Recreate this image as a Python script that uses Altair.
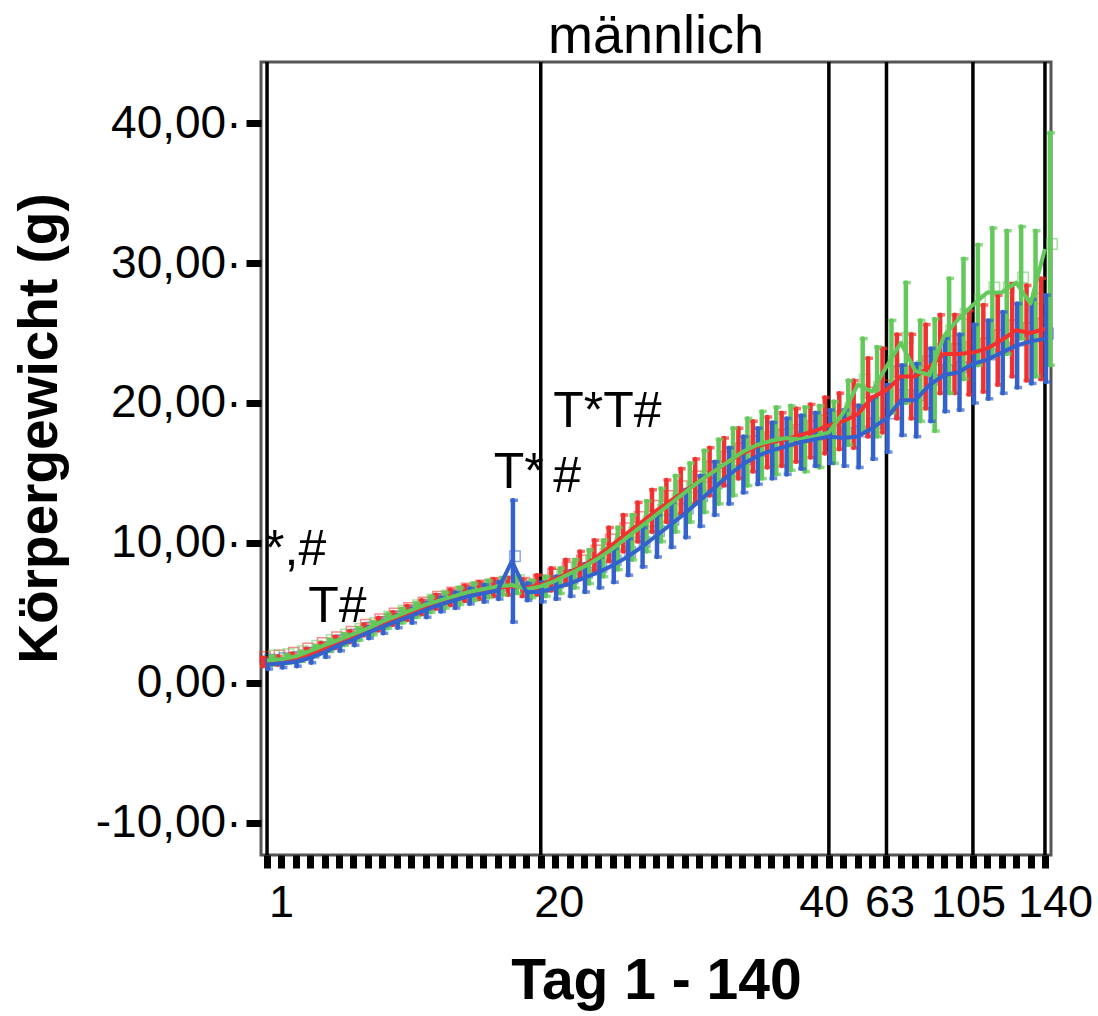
import altair as alt
import pandas as pd

# ---------------- data ----------------
days = [str(d) for d in list(range(1, 41)) + [42, 49, 56, 63, 70, 77, 84, 91, 98, 105, 112, 119, 126, 133, 140]]
labeled_days = ["1", "20", "40", "63", "105", "140"]
label_shift = [14, 18, -5, 3, -5, 10]
ref_days = ["1", "20", "40", "63", "105", "140"]

red_mean = [1.5, 1.6, 1.8, 2.1, 2.5, 2.9, 3.3, 3.8, 4.2, 4.6,
            5.0, 5.4, 5.8, 6.1, 6.4, 6.6, 6.8, 6.9, 6.8, 7.0,
            7.4, 7.9, 8.4, 9.1, 9.9, 10.7, 11.5, 12.3, 13.0, 13.7,
            14.4, 15.1, 15.8, 16.4, 16.9, 17.2, 17.4, 17.7, 18.0, 18.4,
            18.7, 19.2, 20.4, 20.9, 21.9, 21.9, 22.6, 23.5, 23.5, 23.6,
            23.9, 24.5, 25.2, 25.0, 25.3]
green_mean = [1.6, 1.7, 1.9, 2.3, 2.7, 3.1, 3.5, 3.9, 4.4, 4.8,
              5.2, 5.6, 5.9, 6.2, 6.5, 6.7, 6.9, 7.0, 6.7, 6.9,
              7.3, 7.8, 8.3, 8.9, 9.6, 10.4, 11.2, 12.0, 12.8, 13.6,
              14.4, 15.1, 15.8, 16.5, 17.0, 17.3, 17.5, 17.4, 17.6, 17.9,
              19.3, 21.3, 20.8, 22.6, 24.3, 22.3, 22.0, 24.8, 26.0, 27.0,
              27.9, 27.9, 28.6, 27.1, 31.0]
blue_mean = [1.3, 1.4, 1.5, 1.8, 2.2, 2.7, 3.1, 3.6, 4.0, 4.4,
             4.8, 5.2, 5.6, 5.9, 6.2, 6.4, 6.6, 8.7, 6.5, 6.5,
             6.8, 7.1, 7.5, 7.9, 8.4, 9.0, 9.7, 10.5, 11.3, 12.1,
             13.0, 13.9, 14.8, 15.6, 16.2, 16.6, 16.9, 17.2, 17.4, 17.6,
             17.5, 17.6, 18.2, 18.9, 20.2, 20.2, 21.3, 22.0, 22.2, 22.8,
             23.1, 23.6, 24.1, 24.4, 24.6]

red_sd = [0.3, 0.3, 0.3, 0.35, 0.35, 0.4, 0.4, 0.4, 0.45, 0.45,
          0.5, 0.5, 0.5, 0.55, 0.55, 0.6, 0.6, 0.6, 0.6, 0.7,
          0.8, 0.9, 1.0, 1.1, 1.2, 1.3, 1.4, 1.5, 1.5, 1.6,
          1.6, 1.7, 1.7, 1.8, 1.8, 1.8, 1.9, 1.9, 1.9, 2.0,
          2.0, 2.4, 2.8, 3.0, 3.0, 3.0, 3.0, 2.8, 2.8, 3.0,
          3.1, 3.2, 3.3, 3.4, 3.6]
green_sd = [0.3, 0.3, 0.35, 0.35, 0.4, 0.4, 0.45, 0.45, 0.5, 0.5,
            0.5, 0.55, 0.55, 0.6, 0.6, 0.6, 0.6, 0.6, 0.6, 0.7,
            0.9, 1.0, 1.2, 1.3, 1.5, 1.6, 1.8, 1.9, 2.0, 2.1,
            2.2, 2.3, 2.4, 2.4, 2.4, 2.4, 2.3, 2.3, 2.2, 2.2,
            2.3, 3.3, 3.2, 3.3, 4.3, 3.6, 4.0, 4.1, 4.3, 4.3,
            4.6, 4.4, 4.0, 5.2, 8.3]
blue_sd = [0.3, 0.3, 0.3, 0.35, 0.35, 0.4, 0.4, 0.4, 0.45, 0.45,
           0.5, 0.5, 0.5, 0.55, 0.55, 0.6, 0.6, 4.35, 0.6, 0.7,
           0.8, 0.9, 1.0, 1.1, 1.2, 1.3, 1.4, 1.5, 1.6, 1.7,
           1.8, 1.9, 2.0, 2.0, 2.0, 2.0, 2.0, 1.9, 1.9, 1.9,
           2.0, 2.2, 2.2, 2.4, 2.5, 2.6, 2.6, 2.6, 2.7, 2.8,
           2.8, 2.9, 3.0, 3.0, 3.1]

y_ticks = [-10, 0, 10, 20, 30, 40]

ann_left_text = ["*,#", "T#", "#", "T*T#"]
ann_left_day = ["1", "4", "21", "21"]
ann_left_y = [8.4, 4.35, 13.65, 18.3]
ann_right_text = ["T*"]
ann_right_day = ["20"]
ann_right_y = [13.95]

# ---------------- styling ----------------
FONT = "Liberation Sans"
groups = [
    ("red", red_mean, red_sd, "#f23030", -4),
    ("green", green_mean, green_sd, "#62c95a", 5),
    ("blue", blue_mean, blue_sd, "#3462cc", 1),
]

label_list = "[" + ",".join("'" + d + "'" for d in labeled_days) + "]"
offset_cond = [
    {"test": f"datum.value == '{d}'", "value": s} for d, s in zip(labeled_days, label_shift)
]
x_enc = alt.X(
    "day:O",
    sort=days,
    scale=alt.Scale(type="point", domain=days, padding=0.42),
    axis=alt.Axis(
        title="Tag 1 - 140",
        titleFont=FONT, titleFontSize=57, titleFontWeight="bold", titleColor="black",
        titlePadding=28,
        labelExpr=f"indexof({label_list}, datum.value) >= 0 ? datum.value : ''",
        labelOffset={"condition": offset_cond, "value": 0},
        labelAngle=0, labelFont=FONT, labelFontSize=45, labelColor="black",
        labelPadding=12, labelOverlap=False, labelFlush=False, labelBound=False,
        domain=False, ticks=True, tickColor="black", tickWidth=7, tickSize=13,
        grid=False,
    ),
)
y_scale = alt.Scale(domain=[-12.29, 44.36], nice=False, zero=False)
y_axis = alt.Axis(
    title="Körpergewicht (g)",
    titleFont=FONT, titleFontSize=55, titleFontWeight="bold", titleColor="black",
    titlePadding=27, titleY=366,
    values=y_ticks,
    labelExpr="(datum.value < 0 ? '-' : '') + replace(format(abs(datum.value), '.2f'), '.', ',') + '·'",
    labelFont=FONT, labelFontSize=46, labelColor="black", labelPadding=5,
    domain=False, tickColor="black", tickWidth=7, tickSize=15, grid=False,
)

layers = []

# reference lines
ref_df = pd.DataFrame({"day": ref_days})
layers.append(
    alt.Chart(ref_df).mark_rule(color="black", strokeWidth=3.5).encode(x=x_enc)
)

frames = {}
for name, mean, sd, col, off in groups:
    df = pd.DataFrame({"day": days, "mean": mean, "sd": sd})
    df["lo"] = df["mean"] - df["sd"]
    df["hi"] = df["mean"] + df["sd"]
    frames[name] = df

# hollow squares
for name, mean, sd, col, off in groups:
    layers.append(
        alt.Chart(frames[name]).mark_point(
            shape="square", filled=False, size=110, strokeWidth=1.5,
            color=col, opacity=0.55, xOffset=off + 2, yOffset=-5,
        ).encode(x=x_enc, y=alt.Y("mean:Q", scale=y_scale, axis=y_axis))
    )

# error bars
for name, mean, sd, col, off in groups:
    df = frames[name]
    layers.append(
        alt.Chart(df).mark_rule(color=col, strokeWidth=4.5, strokeCap="round", xOffset=off).encode(
            x=x_enc, y=alt.Y("lo:Q", scale=y_scale, axis=y_axis), y2="hi:Q"
        )
    )
    for end in ["lo", "hi"]:
        layers.append(
            alt.Chart(df).mark_tick(color=col, thickness=3.5, size=8, xOffset=off + 1).encode(
                x=x_enc, y=alt.Y(f"{end}:Q", scale=y_scale, axis=y_axis)
            )
        )

# mean lines
for name, mean, sd, col, off in groups:
    layers.append(
        alt.Chart(frames[name]).mark_line(color=col, strokeWidth=4, strokeJoin="round").encode(
            x=x_enc, y=alt.Y("mean:Q", scale=y_scale, axis=y_axis)
        )
    )

# annotations
annl = pd.DataFrame({"text": ann_left_text, "day": ann_left_day, "y": ann_left_y})
annr = pd.DataFrame({"text": ann_right_text, "day": ann_right_day, "y": ann_right_y})
layers.append(
    alt.Chart(annl).mark_text(align="left", baseline="alphabetic", font=FONT, fontSize=50,
                              color="black", dx=-2).encode(
        x=x_enc, y=alt.Y("y:Q", scale=y_scale, axis=y_axis), text="text:N")
)
layers.append(
    alt.Chart(annr).mark_text(align="right", baseline="alphabetic", font=FONT, fontSize=50,
                              color="black", dx=3).encode(
        x=x_enc, y=alt.Y("y:Q", scale=y_scale, axis=y_axis), text="text:N")
)

chart = alt.layer(*layers).properties(
    width=790, height=793,
    title=alt.TitleParams("männlich", font=FONT, fontSize=54, fontWeight="normal",
                          color="black", anchor="middle", offset=-4),
    autosize=alt.AutoSizeParams(type="none"),
    padding={"left": 261, "top": 62, "right": 47, "bottom": 161},
    background="white",
).configure_view(stroke="#555555", strokeWidth=3)

chart.save("out.html", embed_options={"renderer": "svg", "actions": False})
